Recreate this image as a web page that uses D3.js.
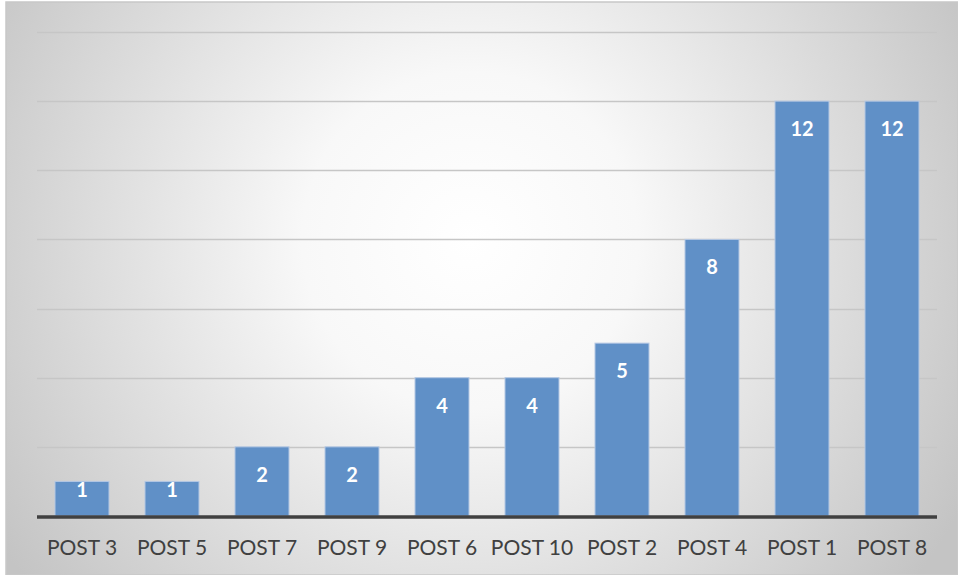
<!DOCTYPE html>
<html><head><meta charset="utf-8">
<script src="https://cdn.jsdelivr.net/npm/d3@7"></script>
<style>html,body{margin:0;padding:0;background:#fff;}svg{display:block;}</style>
</head><body>
<script>
const categories = ["POST 3","POST 5","POST 7","POST 9","POST 6","POST 10","POST 2","POST 4","POST 1","POST 8"];
const values = [1,1,2,2,4,4,5,8,12,12];
const yTicks = [0,2,4,6,8,10,12,14];

const W = 958, H = 575;
const svg = d3.select("body").append("svg").attr("width", W).attr("height", H);
const defs = svg.append("defs");
const rg = defs.append("radialGradient").attr("id","bg")
  .attr("gradientUnits","userSpaceOnUse").attr("cx",470).attr("cy",240).attr("r",560);
rg.append("stop").attr("offset","0").attr("stop-color","#ffffff");
rg.append("stop").attr("offset","0.3").attr("stop-color","#f8f8f8");
rg.append("stop").attr("offset","1").attr("stop-color","#c4c4c4");

svg.append("rect").attr("x",6).attr("y",2).attr("width",W-6).attr("height",H-2)
  .attr("fill","url(#bg)").attr("stroke","#c8c8c8").attr("stroke-width",1.5);

const pLeft = 37, pRight = 937, pTop = 32, pBottom = 516;
const x = d3.scaleBand().domain(categories).range([pLeft,pRight]).paddingInner(0.4).paddingOuter(0.2);
const y = d3.scaleLinear().domain([0,14]).range([pBottom,pTop]);

svg.append("g").selectAll("line").data(yTicks.slice(1)).join("line")
  .attr("x1",pLeft).attr("x2",pRight)
  .attr("y1",d=>Math.round(y(d))+0.5).attr("y2",d=>Math.round(y(d))+0.5)
  .attr("stroke","#c6c6c6").attr("stroke-width",1.3);

svg.append("g").selectAll("rect").data(values).join("rect")
  .attr("x",(d,i)=>x(categories[i])).attr("width",x.bandwidth())
  .attr("y",d=>y(d)).attr("height",d=>pBottom-y(d))
  .attr("fill","#6090c7").attr("stroke","#b4c8e4").attr("stroke-width",1);

svg.append("g").selectAll("text").data(values).join("text")
  .attr("x",(d,i)=>x(categories[i])+x.bandwidth()/2)
  .attr("y",d=>y(d)+((pBottom-y(d))>=60 ? 35 : 16))
  .attr("text-anchor","middle")
  .attr("font-family","Lato, 'Open Sans', sans-serif").attr("font-weight","bold")
  .attr("font-size",20).attr("fill","#ffffff")
  .text(d=>d);

const xAxis = d3.axisBottom(x).tickSize(0).tickPadding(24);
const gx = svg.append("g").attr("transform",`translate(0,${pBottom})`).call(xAxis);
gx.select(".domain").remove();
gx.selectAll("text").attr("font-family","Lato, 'Open Sans', sans-serif")
  .attr("font-size",21).attr("fill","#404040");

svg.append("line").attr("x1",pLeft).attr("x2",pRight).attr("y1",pBottom+1).attr("y2",pBottom+1)
  .attr("stroke","#404040").attr("stroke-width",3.5);
</script>
</body></html>
